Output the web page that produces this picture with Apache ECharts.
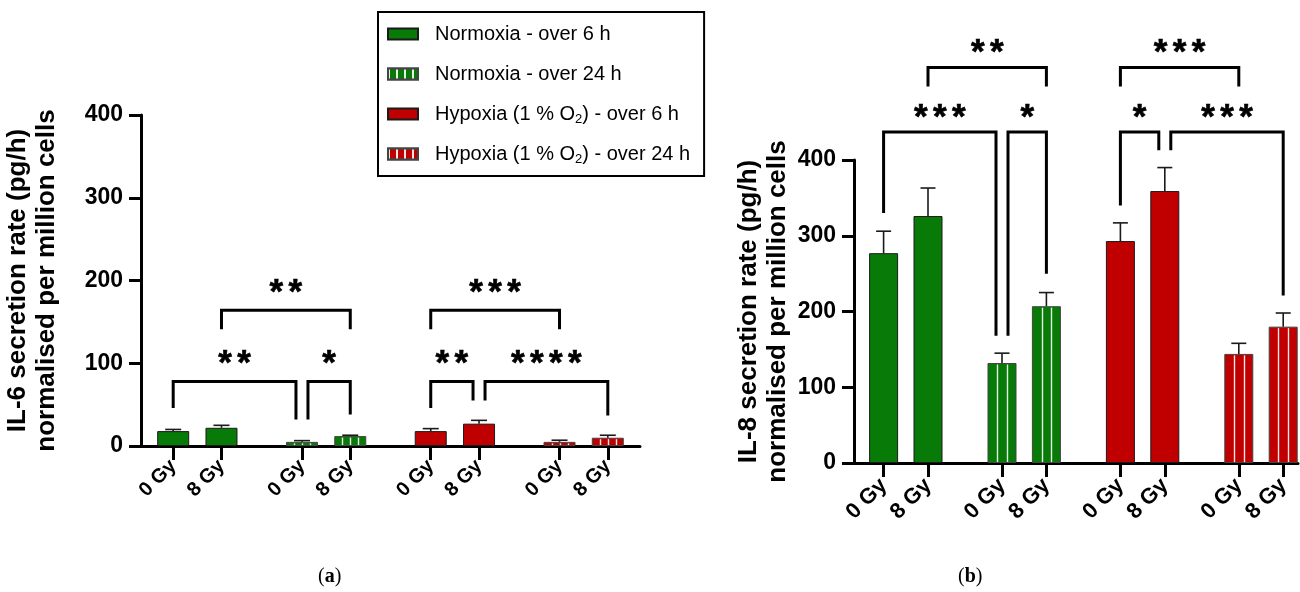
<!DOCTYPE html>
<html>
<head>
<meta charset="utf-8">
<script src="https://cdn.jsdelivr.net/npm/echarts@6/dist/echarts.min.js"></script>
<style>
  html, body { margin: 0; padding: 0; background: #fff; }
  #chart { width: 1300px; height: 592px; }
</style>
</head>
<body>
<div id="chart"></div>
<script>
// ---------------- data ----------------
const categories = ['0 Gy', '8 Gy', '0 Gy', '8 Gy', '0 Gy', '8 Gy', '0 Gy', '8 Gy'];
const seriesNames = ['Normoxia - over 6 h', 'Normoxia - over 24 h', 'Hypoxia (1 % O2) - over 6 h', 'Hypoxia (1 % O2) - over 24 h'];
const yTicks = [0, 100, 200, 300, 400];

// IL-6 (panel a): mean and error per bar, in category order
const il6Mean = [18, 22, 5, 12, 18, 27, 5, 10];
const il6Err  = [2, 3, 1.5, 1, 3, 4, 2, 3];
// IL-8 (panel b)
const il8Mean = [277, 326, 132, 207, 293, 359, 144, 180];
const il8Err  = [29, 37, 13, 18, 24, 31, 14, 18];

// significance brackets: [fromBar, toBar, level, legFromEnd, legToEnd, label]
const il6Brackets = [
  [1, 3, 164, 141, 141, '**'],
  [4, 6, 164, 141, 141, '***'],
  [0, 2, 78, 46, 32, '**'],
  [2, 3, 78, 32, 38, '*'],
  [4, 5, 78, 46, 55, '**'],
  [5, 7, 78, 55, 37, '****']
];
const il8Brackets = [
  [1, 3, 522, 497, 497, '**'],
  [4, 6, 522, 497, 497, '***'],
  [0, 2, 437, 330, 168, '***'],
  [2, 3, 437, 168, 250, '*'],
  [4, 5, 437, 340, 413, '*'],
  [5, 7, 437, 413, 221, '***']
];

// ---------------- layout helpers ----------------
const FONT = '"Liberation Sans", Arial, Helvetica, sans-serif';
const GREEN = '#087a08';
const RED = '#c00000';
const colors = [GREEN, GREEN, RED, RED];
const lead = 2, pairStep = 3, groupStep = 8;
const slots = categories.map((c, i) => lead + Math.floor(i / 2) * groupStep + (i % 2) * pairStep);
const slotSet = new Set(slots);
const stripedBars = categories.map((c, i) => i).filter(i => Math.floor(i / 2) % 2 === 1);

function axisCats(total) {
  const arr = new Array(total).fill('');
  slots.forEach((s, i) => { arr[s] = categories[i]; });
  return arr;
}

function barSeries(gi, means, barWidth, total) {
  return seriesNames.map((name, k) => {
    const data = new Array(total).fill('-');
    data[slots[2 * k]] = means[2 * k];
    data[slots[2 * k + 1]] = means[2 * k + 1];
    return {
      name, type: 'bar', xAxisIndex: gi, yAxisIndex: gi, data,
      barWidth, barGap: '-100%', silent: true, z: 2,
      itemStyle: { color: colors[k], borderColor: k % 2 ? '#444' : '#1a1a1a', borderWidth: 1 }
    };
  });
}

function stripeSeries(gi, means, barWidth, nLines) {
  return {
    type: 'custom', xAxisIndex: gi, yAxisIndex: gi, silent: true, z: 3,
    data: stripedBars.map(i => [slots[i], means[i]]),
    renderItem: (params, api) => {
      const p0 = api.coord([api.value(0), 0]);
      const p1 = api.coord([api.value(0), api.value(1)]);
      const left = p0[0] - barWidth / 2;
      const children = [];
      for (let j = 1; j <= nLines; j++) {
        const xx = Math.round(left + barWidth * j / (nLines + 1)) + 0.5;
        children.push({ type: 'line', shape: { x1: xx, y1: p0[1] - 1, x2: xx, y2: p1[1] + 1.5 },
          style: { stroke: 'rgba(255,255,255,0.9)', lineWidth: 1.4 } });
      }
      return { type: 'group', children };
    }
  };
}

function errSeries(gi, means, errs, capW) {
  return {
    type: 'custom', xAxisIndex: gi, yAxisIndex: gi, silent: true, z: 4, clip: false,
    data: means.map((m, i) => [slots[i], m, errs[i]]),
    renderItem: (params, api) => {
      const x = api.value(0), m = api.value(1), e = api.value(2);
      const p0 = api.coord([x, m]);
      const p1 = api.coord([x, m + e]);
      const st = { stroke: '#1a1a1a', lineWidth: 1.6 };
      return { type: 'group', children: [
        { type: 'line', shape: { x1: p0[0], y1: p0[1], x2: p1[0], y2: p1[1] }, style: st },
        { type: 'line', shape: { x1: p1[0] - capW / 2, y1: p1[1], x2: p1[0] + capW / 2, y2: p1[1] }, style: st }
      ]};
    }
  };
}

function bracketSeries(gi, brackets, starOffset) {
  return {
    type: 'custom', xAxisIndex: gi, yAxisIndex: gi, silent: true, z: 5, clip: false,
    data: brackets.map(b => [slots[b[0]], b[2]]),
    renderItem: (params, api) => {
      const b = brackets[params.dataIndex];
      const sF = brackets.some(o => o !== b && o[1] === b[0] && o[2] === b[2]) ? 6 : 0;
      const sT = brackets.some(o => o !== b && o[0] === b[1] && o[2] === b[2]) ? -6 : 0;
      const xF = api.coord([slots[b[0]], b[2]])[0] + sF;
      const xT = api.coord([slots[b[1]], b[2]])[0] + sT;
      const yTop = api.coord([slots[b[0]], b[2]])[1];
      const yLF = api.coord([slots[b[0]], b[3]])[1];
      const yLT = api.coord([slots[b[1]], b[4]])[1];
      const children = [
        { type: 'polyline', shape: { points: [[xF, yLF], [xF, yTop], [xT, yTop], [xT, yLT]] },
          style: { stroke: '#000', lineWidth: 3, fill: null, lineJoin: 'miter' } }
      ];
      const n = b[5].length, step = 19, cx = (xF + xT) / 2;
      for (let j = 0; j < n; j++) {
        children.push({ type: 'text', x: cx + (j - (n - 1) / 2) * step, y: yTop - starOffset,
          style: { text: '*', font: 'bold 35px ' + FONT, fill: '#000', stroke: '#000', lineWidth: 0.6,
                   align: 'center', verticalAlign: 'middle', textAlign: 'center', textVerticalAlign: 'middle' } });
      }
      return { type: 'group', children };
    }
  };
}

function xAxisFor(gi, total, fontSize, margin) {
  return {
    type: 'category', gridIndex: gi, data: axisCats(total), boundaryGap: false,
    axisLine: { show: true, lineStyle: { color: '#000', width: 3 } },
    axisTick: { show: true, length: 14, interval: (i) => slotSet.has(i), lineStyle: { color: '#000', width: 3 } },
    axisLabel: { show: true, interval: (i) => slotSet.has(i), rotate: 45, margin,
                 fontFamily: FONT, fontWeight: 'bold', fontSize, color: '#000' },
    splitLine: { show: false }
  };
}

function yAxisFor(gi, title, gap, titleSize) {
  return {
    type: 'value', gridIndex: gi, min: yTicks[0], max: yTicks[yTicks.length - 1],
    interval: yTicks[1] - yTicks[0],
    axisLine: { show: true, lineStyle: { color: '#000', width: 3 } },
    axisTick: { show: true, length: 12, lineStyle: { color: '#000', width: 3 } },
    axisLabel: { margin: 18, fontFamily: FONT, fontWeight: 'bold', fontSize: 23, color: '#000' },
    splitLine: { show: false },
    name: title, nameLocation: 'middle', nameRotate: 90, nameGap: gap,
    nameTextStyle: { fontFamily: FONT, fontWeight: 'bold', fontSize: titleSize, lineHeight: titleSize + 3, color: '#000' }
  };
}

const legendDecal = { symbol: 'rect', symbolSize: 1, dashArrayX: [2, 6], dashArrayY: [10, 0], color: 'rgba(255,255,255,0.9)' };

const chart = echarts.init(document.getElementById('chart'), null, { renderer: 'canvas' });
chart.setOption({
  animation: false,
  backgroundColor: '#fff',
  grid: [
    { left: 141, top: 115, width: 499, height: 331 },
    { left: 854, top: 160, width: 444, height: 303 }
  ],
  legend: {
    data: seriesNames.map((name, k) => {
      const item = { name, icon: 'rect' };
      if (k % 2 === 1) item.itemStyle = { decal: legendDecal };
      return item;
    }),
    orient: 'vertical', left: 378, top: 12,
    itemWidth: 30, itemHeight: 11, itemGap: 16,
    padding: [10, 14, 10, 9],
    borderColor: '#000', borderWidth: 2,
    selectedMode: false,
    formatter: (name) => name.replace('O2', 'O{sub|2}'),
    textStyle: { fontFamily: FONT, fontSize: 20, color: '#000', lineHeight: 24, padding: [0, 0, 0, 12],
      rich: { sub: { fontFamily: FONT, fontSize: 13, color: '#000', verticalAlign: 'bottom', lineHeight: 14, padding: [8, 0, 0, 0] } } }
  },
  xAxis: [xAxisFor(0, 32, 20, 17), xAxisFor(1, 31, 22, 19)],
  yAxis: [
    yAxisFor(0, 'IL-6 secretion rate (pg/h)\nnormalised per million cells', 80, 26),
    yAxisFor(1, 'IL-8 secretion rate (pg/h)\nnormalised per million cells', 62, 26)
  ],
  series: [
    ...barSeries(0, il6Mean, 32, 32),
    ...barSeries(1, il8Mean, 29, 31),
    stripeSeries(0, il6Mean, 32, 3),
    stripeSeries(1, il8Mean, 29, 2),
    errSeries(0, il6Mean, il6Err, 16),
    errSeries(1, il8Mean, il8Err, 15),
    bracketSeries(0, il6Brackets, 17),
    bracketSeries(1, il8Brackets, 14)
  ],
  graphic: [
    { type: 'text', left: 318, top: 567, style: { text: '({b|a})', font: '20px "Liberation Serif", serif', fill: '#000',
      rich: { b: { fontFamily: '"Liberation Serif", serif', fontWeight: 'bold', fontSize: 20 } } } },
    { type: 'text', left: 958, top: 567, style: { text: '({b|b})', font: '20px "Liberation Serif", serif', fill: '#000',
      rich: { b: { fontFamily: '"Liberation Serif", serif', fontWeight: 'bold', fontSize: 20 } } } }
  ]
});
</script>
</body>
</html>
